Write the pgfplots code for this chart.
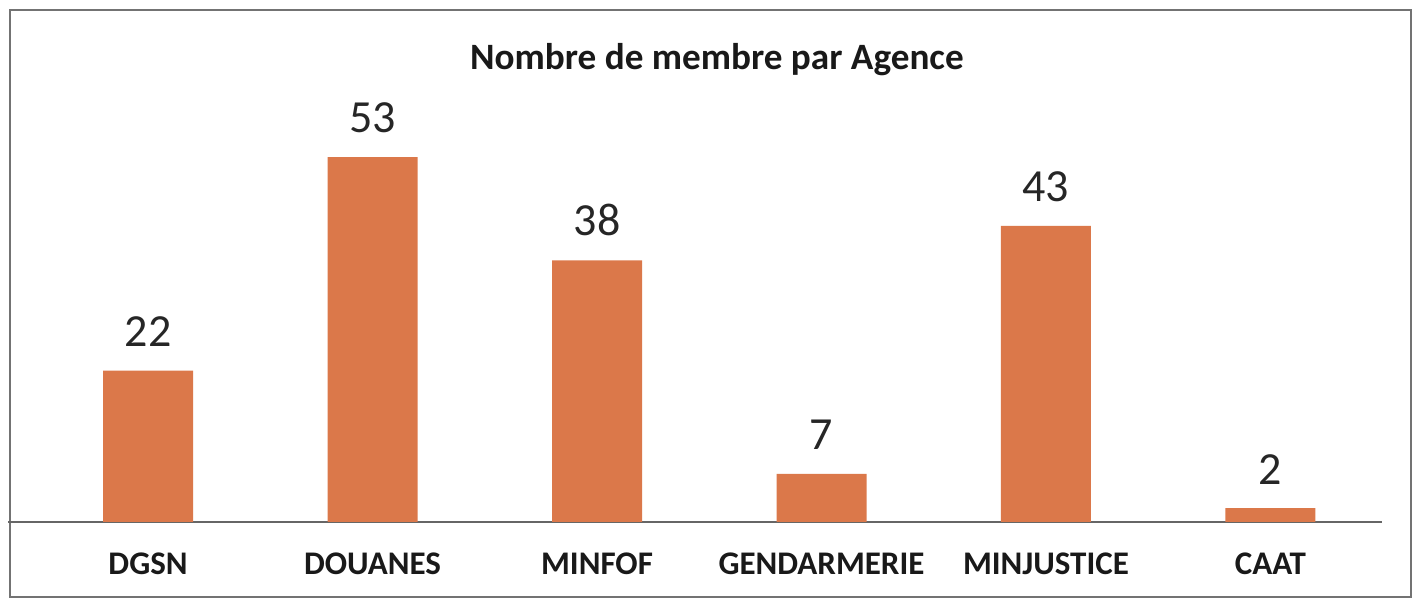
\documentclass[border=0pt]{standalone}
\usepackage{pgfplots}
\pgfplotsset{compat=1.18}
\usepackage{fontspec}
\setmainfont{Carlito}
\definecolor{barc}{RGB}{219,120,74}
\begin{document}
\begin{tikzpicture}
\useasboundingbox (-4pt,-40.5pt) rectangle (707pt,261pt);
\draw[black!55, line width=0.6pt] (1pt,-37.5pt) rectangle (701.5pt,256pt);
\begin{axis}[
  at={(0pt,0pt)}, anchor=south west,
  scale only axis, width=687pt, height=251pt,
  xmin=-0.624, xmax=5.497, ymin=0, ymax=72.9,
  ybar, bar width=45pt,
  hide y axis,
  axis x line=bottom,
  x axis line style={-, black!60, line width=0.6pt},
  xtick={0,1,2,3,4,5},
  xticklabels={DGSN,DOUANES,MINFOF,GENDARMERIE,MINJUSTICE,CAAT},
  xtick style={draw=none},
  xticklabel style={font=\fontsize{16.5}{17}\selectfont\bfseries, text=black!90, anchor=north, yshift=-10pt},
  nodes near coords,
  /pgf/number format/assume math mode=true,
  every node near coord/.append style={font=\fontsize{23}{24}\selectfont, text=black!85, yshift=8.5pt},
]
\addplot[fill=barc, draw=none] coordinates {(0,22) (1,53) (2,38) (3,7) (4,43) (5,2)};
\end{axis}
\node[anchor=base, font=\fontsize{18.6}{19}\selectfont\bfseries, text=black!90] at (354.5pt,226pt) {Nombre de membre par Agence};
\end{tikzpicture}
\end{document}
